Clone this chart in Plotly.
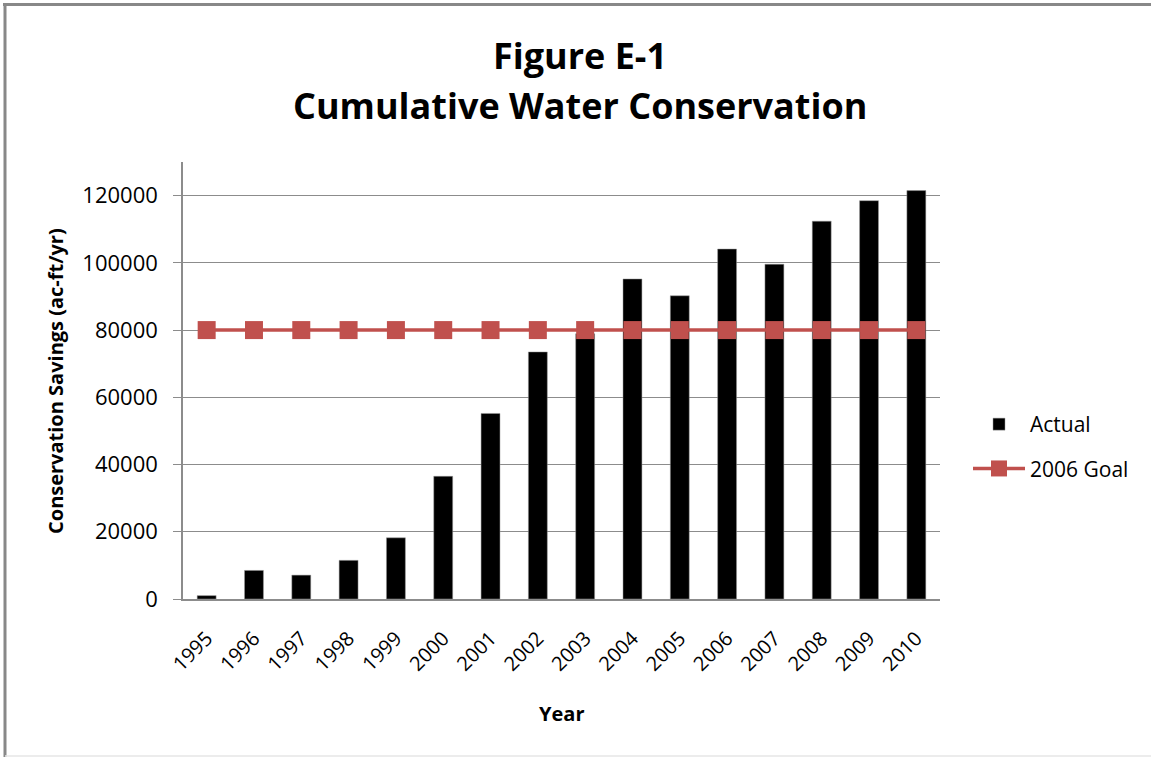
import plotly.graph_objects as go

years = ["1995", "1996", "1997", "1998", "1999", "2000", "2001", "2002",
         "2003", "2004", "2005", "2006", "2007", "2008", "2009", "2010"]
actual = [1000, 8500, 7100, 11500, 18200, 36500, 55200, 73500,
          78900, 95200, 90200, 104100, 99600, 112400, 118500, 121500]
goal = [80000] * 16
y_ticks = [0, 20000, 40000, 60000, 80000, 100000, 120000]

W, H = 1151, 757
L, R, T, B = 183, 211, 162, 158
pw, ph = W - L - R, H - T - B

def px(x):
    return (x - L) / pw

def py(y):
    return (H - B - y) / ph

FONT = "Open Sans"
RED = "#C0504D"
GRID = "#8C8C8C"

fig = go.Figure()
fig.add_trace(go.Bar(
    x=years, y=actual, name="Actual", legendgroup="a",
    marker=dict(color="black", line=dict(color="#9a9a9a", width=0.5)),
))
fig.add_trace(go.Scatter(
    x=years, y=goal, name="2006 Goal", mode="lines+markers", legendgroup="b",
    line=dict(color=RED, width=3.5),
    marker=dict(symbol="square", size=18, color=RED),
))

fig.update_layout(
    width=W, height=H,
    margin=dict(l=L, r=R, t=T, b=B),
    paper_bgcolor="white", plot_bgcolor="white",
    font=dict(family=FONT, color="black", size=20),
    bargap=0.6,
    showlegend=True,
    legend=dict(x=px(968), y=py(404), xanchor="left", yanchor="top",
                traceorder="grouped", tracegroupgap=14,
                font=dict(family=FONT, size=21, color="black"),
                itemwidth=52, bgcolor="rgba(0,0,0,0)"),
    xaxis=dict(
        type="category", range=[-0.5, 15.5], tickangle=-45,
        showline=True, linecolor=GRID, linewidth=1.5,
        ticks="", showgrid=False, zeroline=False,
        tickfont=dict(family=FONT, size=20),
        ticklabelstandoff=18,
    ),
    yaxis=dict(
        range=[0, 130000], tickvals=y_ticks,
        ticktext=[str(v) for v in y_ticks],
        showline=True, linecolor=GRID, linewidth=1.5,
        ticks="outside", ticklen=8, tickcolor=GRID,
        showgrid=True, gridcolor=GRID, gridwidth=1, zeroline=False,
        tickfont=dict(family=FONT, size=22),
        ticklabelstandoff=11,
    ),
    annotations=[
        dict(text="<b>Figure E-1</b>", x=px(580), y=py(56), xref="paper", yref="paper",
             showarrow=False, font=dict(family=FONT, size=36), xanchor="center", yanchor="middle"),
        dict(text="<b>Cumulative Water Conservation</b>", x=px(580), y=py(106),
             xref="paper", yref="paper", showarrow=False,
             font=dict(family=FONT, size=36), xanchor="center", yanchor="middle"),
        dict(text="<b>Conservation Savings (ac-ft/yr)</b>", x=px(55), y=py(381),
             xref="paper", yref="paper", showarrow=False, textangle=-90,
             font=dict(family=FONT, size=20), xanchor="center", yanchor="middle"),
        dict(text="<b>Year</b>", x=px(561), y=py(713), xref="paper", yref="paper",
             showarrow=False, font=dict(family=FONT, size=20),
             xanchor="center", yanchor="middle"),
    ],
    shapes=[
        dict(type="line", xref="paper", yref="paper", x0=px(3), x1=px(W + 20), y0=py(4.5), y1=py(4.5),
             line=dict(color="#888888", width=3)),
        dict(type="line", xref="paper", yref="paper", x0=px(5), x1=px(5), y0=py(3), y1=py(H + 20),
             line=dict(color="#888888", width=3)),
        dict(type="line", xref="paper", yref="paper", x0=px(5), x1=px(W + 20), y0=py(756), y1=py(756),
             line=dict(color="#e6e6e6", width=1.5)),
    ],
)

fig.write_html("out.html",
               config={"displayModeBar": False},
               post_script="document.body.style.margin='0';document.body.style.padding='0';")
